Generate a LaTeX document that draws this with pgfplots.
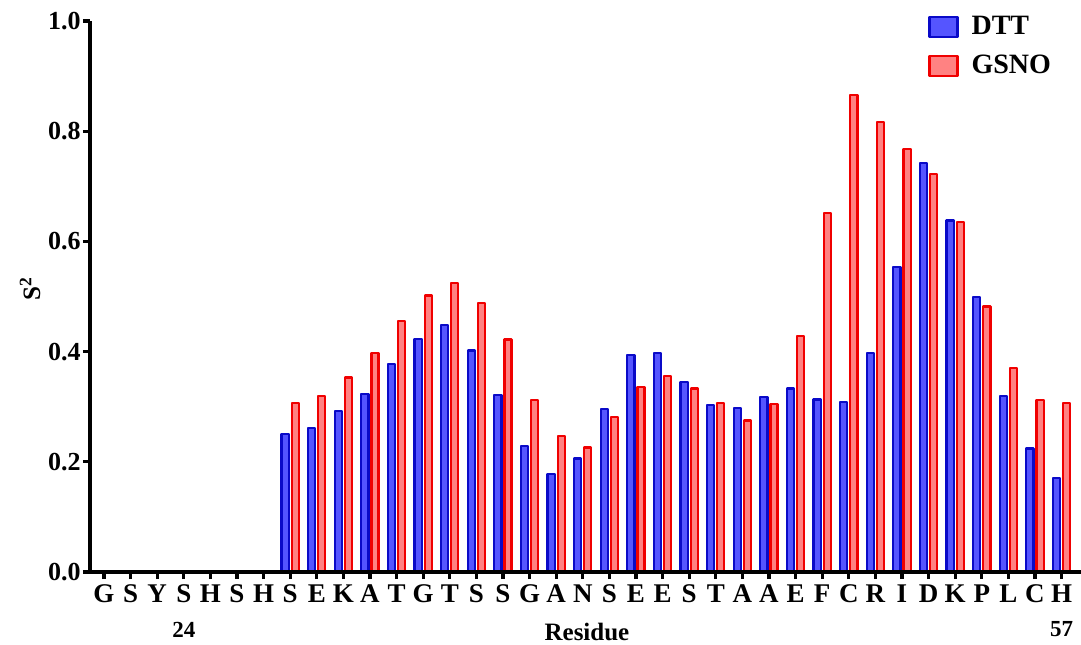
\documentclass[border=0pt]{standalone}
\usepackage{pgfplots}
\usepackage{pgfplotstable}
\pgfplotsset{compat=1.18}
\usepackage{fontspec}
\setmainfont{Liberation Serif}
\definecolor{dttfill}{RGB}{85,85,255}
\definecolor{dttedge}{RGB}{10,10,200}
\definecolor{gsnofill}{RGB}{255,130,130}
\definecolor{gsnoedge}{RGB}{240,0,0}
\pgfplotsset{sqlegend/.style={legend image code/.code={\draw[##1, line width=1.1pt] (0pt,-5pt) rectangle (14pt,5pt); \path (18.5pt,0pt);}}}

\pgfplotstableread{
x dtt gsno
7 0.250 0.306
8 0.261 0.320
9 0.292 0.353
10 0.323 0.397
11 0.378 0.456
12 0.423 0.502
13 0.448 0.524
14 0.402 0.488
15 0.321 0.422
16 0.229 0.312
17 0.178 0.247
18 0.206 0.226
19 0.296 0.281
20 0.394 0.336
21 0.397 0.356
22 0.345 0.333
23 0.303 0.307
24 0.298 0.275
25 0.317 0.305
26 0.333 0.429
27 0.313 0.651
28 0.308 0.865
29 0.398 0.816
30 0.554 0.767
31 0.742 0.722
32 0.638 0.635
33 0.499 0.482
34 0.320 0.370
35 0.224 0.312
36 0.170 0.307
}\datatable

\begin{document}
\begin{tikzpicture}
\begin{axis}[
  at={(0,0)}, anchor=south west,
  scale only axis, width=495.5pt, height=275.5pt,
  xmin=-0.526, xmax=36.73, ymin=0, ymax=1,
  axis x line=bottom, axis y line=left,
  axis line style={line width=1.8pt, -},
  axis on top,
  clip=false,
  xtick={0,...,36},
  xticklabels={G,S,Y,S,H,S,H,S,E,K,A,T,G,T,S,S,G,A,N,S,E,E,S,T,A,A,E,F,C,R,I,D,K,P,L,C,H},
  xticklabel style={font=\bfseries\fontsize{13.5}{13.5}\selectfont, inner sep=2.5pt},
  ytick={0,0.2,0.4,0.6,0.8,1.0},
  yticklabel style={/pgf/number format/assume math mode=true, /pgf/number format/fixed, /pgf/number format/fixed zerofill, /pgf/number format/precision=1, font=\bfseries\fontsize{13}{13}\selectfont, inner xsep=1pt},
  tick align=outside,
  major tick length=3.5pt,
  tick style={line width=1.6pt, black},
  minor tick num=0,
  xlabel={\textbf{Residue}},
  xlabel style={at={(axis description cs:0.5015,-0.108)}, anchor=center, font=\fontsize{12.5}{12.5}\selectfont},
  ylabel={\textbf{S}\textsuperscript{\textbf{2}}},
  ylabel style={at={(axis description cs:-0.0605,0.515)}, anchor=center, font=\fontsize{12.5}{12.5}\selectfont},
  legend style={draw=none, fill=none, at={(axis description cs:0.8456,1.017)}, anchor=north west, inner sep=0pt, row sep=5pt, font=\bfseries\fontsize{14}{14}\selectfont, cells={anchor=west}},
]
\addplot[ybar, bar width=0.267, bar shift=-0.19, draw=dttedge, fill=dttfill, line width=1.1pt, line join=round, sqlegend]
  table[x=x, y=dtt]{\datatable};
\addlegendentry{DTT}
\addplot[ybar, bar width=0.267, bar shift=0.19, draw=gsnoedge, fill=gsnofill, line width=1.1pt, line join=round, sqlegend]
  table[x=x, y=gsno]{\datatable};
\addlegendentry{GSNO}
\node[font=\bfseries\fontsize{11.5}{11.5}\selectfont] at (axis cs:3,0) [yshift=-28.75pt] {24};
\node[font=\bfseries\fontsize{11.5}{11.5}\selectfont] at (axis cs:36,0) [yshift=-28.75pt] {57};
\end{axis}
\pgfresetboundingbox
\path (-45pt,-36pt) rectangle (495.5pt,286pt);
\end{tikzpicture}
\end{document}
